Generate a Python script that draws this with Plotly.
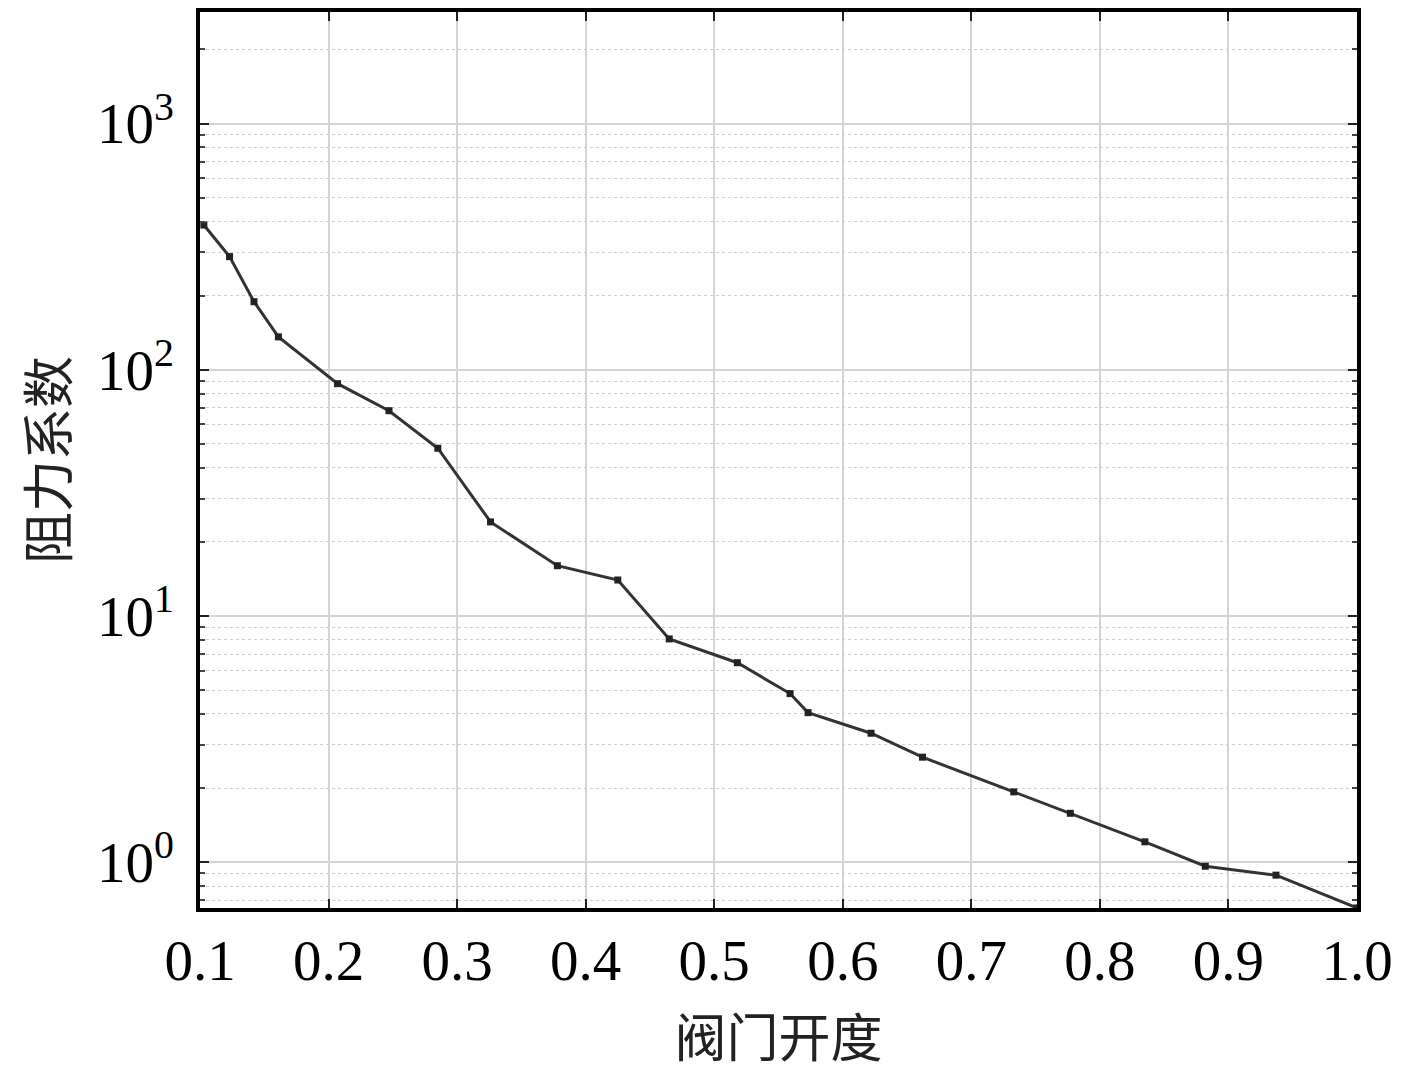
import plotly.graph_objects as go
import numpy as np

# Valve opening vs. resistance coefficient
opening = [0.103, 0.123, 0.142, 0.161, 0.207, 0.247, 0.285, 0.326, 0.378, 0.425, 0.465,
           0.518, 0.559, 0.573, 0.622, 0.662, 0.733, 0.777, 0.835, 0.882, 0.937, 1.0]
resistance = [387, 288, 189, 136, 87.8, 68.2, 48.0, 24.1, 16.0, 14.0, 8.07,
              6.46, 4.84, 4.05, 3.34, 2.67, 1.93, 1.58, 1.21, 0.963, 0.886, 0.652]

x_ticks = [0.1, 0.2, 0.3, 0.4, 0.5, 0.6, 0.7, 0.8, 0.9, 1.0]
x_tick_text = ['0.1', '0.2', '0.3', '0.4', '0.5', '0.6', '0.7', '0.8', '0.9', '1.0']
y_ticks = [1, 10, 100, 1000]
y_tick_text = ['10<sup>0</sup>', '10<sup>1</sup>', '10<sup>2</sup>', '10<sup>3</sup>']

serif = 'Liberation Serif, Times New Roman, serif'
cjk = 'Noto Sans CJK SC, sans-serif'
grid_major = '#d4d4d4'
grid_minor = '#cfcfcf'

fig = go.Figure()
fig.add_trace(go.Scatter(
    x=opening, y=resistance,
    mode='lines+markers',
    line=dict(color='#333333', width=3),
    marker=dict(symbol='square', size=7, color='#222222'),
    cliponaxis=True,
    showlegend=False,
))

fig.update_xaxes(
    range=[0.1, 1.0],
    tickvals=x_ticks, ticktext=x_tick_text,
    tickfont=dict(family=serif, size=57, color='black'),
    ticks='inside', ticklen=9, tickwidth=2, tickcolor='#222',
    showgrid=True, gridcolor=grid_major, gridwidth=1.5,
    showline=True, linecolor='black', linewidth=3.5, mirror='ticks',
    zeroline=False,
    ticklabelstandoff=0,
    title=dict(text='阀门开度', font=dict(family=cjk, size=52, color='#222'), standoff=30),
)

fig.update_yaxes(
    type='log',
    range=[-0.186, 3.453],
    tickvals=y_ticks, ticktext=y_tick_text,
    tickfont=dict(family=serif, size=57, color='black'),
    ticks='inside', ticklen=9, tickwidth=2, tickcolor='#222',
    showgrid=True, gridcolor=grid_major, gridwidth=1.5,
    minor=dict(dtick='D1', showgrid=True, gridcolor=grid_minor, griddash='dot',
               gridwidth=1, ticks='inside', ticklen=5, tickcolor='#444'),
    showline=True, linecolor='black', linewidth=3.5, mirror='ticks',
    zeroline=False,
    ticklabelstandoff=11,
    title=dict(text='阻力系数', font=dict(family=cjk, size=52, color='#222'), standoff=22),
)

fig.update_layout(
    width=1417, height=1075,
    margin=dict(l=192, r=68, t=0, b=175),
    plot_bgcolor='white', paper_bgcolor='white',
)

fig.write_html("out.html")
